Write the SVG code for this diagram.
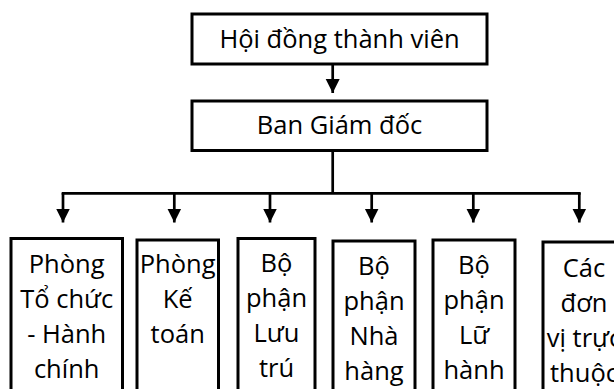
<svg xmlns="http://www.w3.org/2000/svg" width="614" height="389" viewBox="0 0 614 389">
<style>
.box{fill:#fff;stroke:#000;stroke-width:3}
.t{font-family:"Open Sans","Noto Sans",sans-serif;font-size:25.5px;fill:#000;text-anchor:middle}
.c{fill:none;stroke:#000;stroke-width:2.7}
</style>
<defs>
<marker id="ah" markerUnits="userSpaceOnUse" markerWidth="16" markerHeight="16" viewBox="0 0 16 16" refX="14" refY="8" orient="auto">
<path d="M0,1 L14,8 L0,15 Z" fill="#000"/>
</marker>
</defs>
<g id="connectors">
<line class="c" x1="332.7" y1="64" x2="332.7" y2="93" marker-end="url(#ah)"/>
<polyline class="c" points="332.7,150 332.7,193.3"/>
<line class="c" x1="61.7" y1="193.3" x2="580.7" y2="193.3"/>
<line class="c" x1="63" y1="193" x2="63" y2="222.5" marker-end="url(#ah)"/>
<line class="c" x1="174.3" y1="193" x2="174.3" y2="222.5" marker-end="url(#ah)"/>
<line class="c" x1="270" y1="193" x2="270" y2="222.5" marker-end="url(#ah)"/>
<line class="c" x1="371.7" y1="193" x2="371.7" y2="222.5" marker-end="url(#ah)"/>
<line class="c" x1="473.3" y1="193" x2="473.3" y2="222.5" marker-end="url(#ah)"/>
<line class="c" x1="579.3" y1="193" x2="579.3" y2="222.5" marker-end="url(#ah)"/>
</g>
<g id="hdtv">
<rect class="box" x="192" y="14" width="295" height="50"/>
<text class="t" x="339.5" y="47.5">Hội đồng thành viên</text>
</g>
<g id="bgd">
<rect class="box" x="192" y="101" width="295" height="49.5"/>
<text class="t" x="339.5" y="133.5">Ban Giám đốc</text>
</g>
<g id="tchc">
<rect class="box" x="11" y="238.5" width="111.5" height="160"/>
<text class="t" x="66.7" y="272.5">Phòng<tspan x="66.7" dy="35">Tổ chức</tspan><tspan x="66.7" dy="35">- Hành</tspan><tspan x="66.7" dy="35">chính</tspan></text>
</g>
<g id="kt">
<rect class="box" x="137" y="240" width="81.5" height="160"/>
<text class="t" x="177.7" y="273">Phòng<tspan x="177.7" dy="35">Kế</tspan><tspan x="177.7" dy="35">toán</tspan></text>
</g>
<g id="lt">
<rect class="box" x="238" y="238.5" width="77" height="160"/>
<text class="t" x="276.5" y="272">Bộ<tspan x="276.5" dy="35">phận</tspan><tspan x="276.5" dy="35">Lưu</tspan><tspan x="276.5" dy="35">trú</tspan></text>
</g>
<g id="nh">
<rect class="box" x="333" y="241" width="82" height="160"/>
<text class="t" x="374" y="275">Bộ<tspan x="374" dy="35">phận</tspan><tspan x="374" dy="35">Nhà</tspan><tspan x="374" dy="35">hàng</tspan></text>
</g>
<g id="lh">
<rect class="box" x="433" y="240" width="82" height="160"/>
<text class="t" x="474" y="274">Bộ<tspan x="474" dy="35">phận</tspan><tspan x="474" dy="35">Lữ</tspan><tspan x="474" dy="35">hành</tspan></text>
</g>
<g id="dvtt">
<rect class="box" x="543" y="242" width="82" height="160"/>
<text class="t" x="584" y="276.5">Các<tspan x="584" dy="35">đơn</tspan><tspan x="584" dy="35">vị trực</tspan><tspan x="584" dy="35">thuộc</tspan></text>
</g>
</svg>
